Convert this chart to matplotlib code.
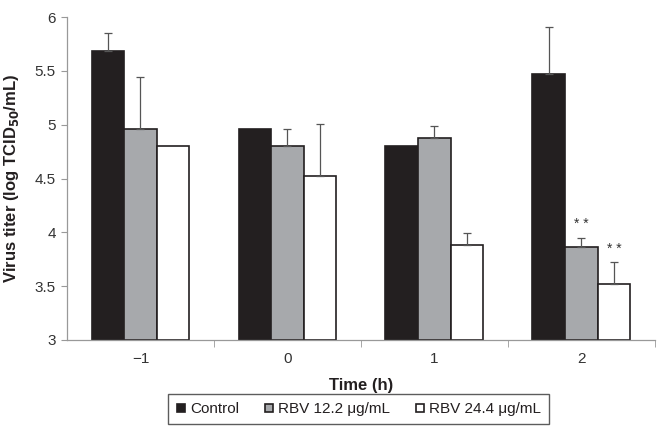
import numpy as np
import matplotlib.pyplot as plt
from matplotlib.lines import Line2D

plt.rcParams['font.family'] = ['Liberation Sans', 'DejaVu Sans']

# data
times = ['\u22121', '0', '1', '2']
control = [5.68, 4.96, 4.80, 5.47]
control_err = [0.17, 0.0, 0.0, 0.44]
rbv12 = [4.96, 4.80, 4.88, 3.86]
rbv12_err = [0.48, 0.16, 0.11, 0.09]
rbv24 = [4.80, 4.52, 3.88, 3.52]
rbv24_err = [0.0, 0.49, 0.11, 0.20]
series = ['Control', 'RBV 12.2 \u03bcg/mL', 'RBV 24.4 \u03bcg/mL']
colors = ['#231f20', '#a7a9ac', 'white']

fig = plt.figure(figsize=(6.68, 4.37), dpi=100)
ax = fig.add_axes([0.1003, 0.222, 0.880, 0.739])

x = np.arange(len(times))
w = 0.222
base = 3
for i, (vals, errs, c) in enumerate(zip([control, rbv12, rbv24],
                                        [control_err, rbv12_err, rbv24_err], colors)):
    vals = np.array(vals)
    errs = np.array(errs)
    ax.bar(x + (i - 1) * w, vals - base, w, bottom=base, color=c,
           edgecolor='#231f20', linewidth=1.2, zorder=2)
    m = errs > 0
    ax.errorbar((x + (i - 1) * w)[m], vals[m], yerr=[np.zeros(m.sum()), errs[m]],
                fmt='none', ecolor='#555555', elinewidth=0.9, capsize=3,
                capthick=0.9, zorder=3)

# significance markers
ax.text(3, rbv12[3] + rbv12_err[3] + 0.06, '* *', ha='center', va='bottom',
        fontsize=10, color='#333333')
ax.text(3 + w, rbv24[3] + rbv24_err[3] + 0.06, '* *', ha='center', va='bottom',
        fontsize=10, color='#333333')

ax.set_ylim(3, 6)
ax.set_xlim(-0.5, 3.5)
ax.set_yticks(np.arange(3, 6.01, 0.5))
ax.set_yticklabels(['3', '3.5', '4', '4.5', '5', '5.5', '6'])
ax.set_xticks(x)
ax.set_xticklabels(times)
ax.set_xticks([0.5, 1.5, 2.5, 3.5], minor=True)
ax.tick_params(axis='x', which='major', length=0, pad=9, labelsize=11, colors='#333333')
ax.tick_params(axis='x', which='minor', length=5, color='#999999', direction='out')
ax.tick_params(axis='y', length=4, color='#999999', labelsize=11, labelcolor='#333333', pad=4)

for s in ['top', 'right']:
    ax.spines[s].set_visible(False)
for s in ['left', 'bottom']:
    ax.spines[s].set_color('#999999')
    ax.spines[s].set_linewidth(0.9)

ax.set_ylabel('Virus titer (log TCID$_{\\mathbf{50}}$/mL)', fontsize=12,
              fontweight='bold', color='#231f20', labelpad=10)
ax.set_xlabel('Time (h)', fontsize=12, fontweight='bold', color='#231f20', labelpad=8)

handles = [Line2D([], [], marker='s', linestyle='none', markersize=6,
                  markerfacecolor=c, markeredgecolor='#231f20', markeredgewidth=1.2)
           for c in colors]
leg = fig.legend(handles, series, loc='center', bbox_to_anchor=(0.537, 0.064),
                 ncol=3, frameon=True, fancybox=False, fontsize=11,
                 handlelength=0.6, handletextpad=0.35, columnspacing=1.6,
                 borderpad=0.5, edgecolor='#333333')
leg.get_frame().set_linewidth(1.0)
leg.get_frame().set_boxstyle('square', pad=0)
for t in leg.get_texts():
    t.set_color('#231f20')

fig.savefig('out.png', dpi=100)
